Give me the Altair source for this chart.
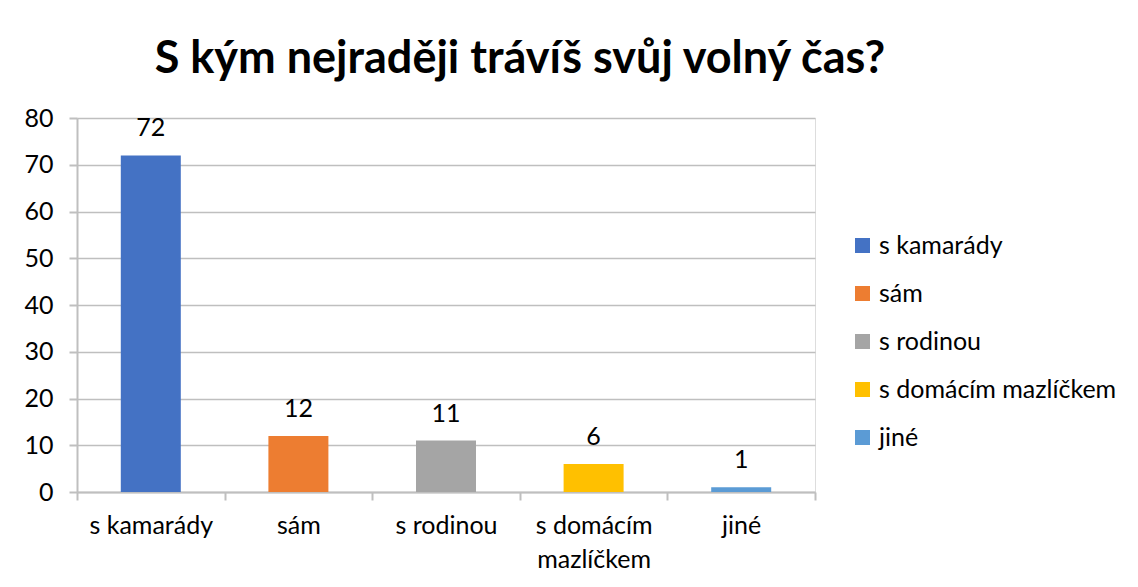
import altair as alt
import pandas as pd

categories = ["s kamarády", "sám", "s rodinou", "s domácím mazlíčkem", "jiné"]
values = [72, 12, 11, 6, 1]
colors = ["#4472C4", "#ED7D31", "#A5A5A5", "#FFC000", "#5B9BD5"]

df = pd.DataFrame({"kategorie": categories, "pocet": values})

FONT = "Lato"
FS = 25

x = alt.X(
    "kategorie:N",
    sort=categories,
    title=None,
    scale=alt.Scale(paddingInner=0, paddingOuter=0),
    axis=alt.Axis(
        labelAngle=0,
        labelFontSize=FS,
        labelColor="#000000",
        labelFont=FONT,
        labelPadding=13,
        labelLineHeight=34,
        labelExpr="datum.label == 's domácím mazlíčkem' ? ['s domácím', 'mazlíčkem'] : datum.label",
        tickBand="extent",
        tickSize=8,
        tickColor="#BFBFBF",
        tickWidth=2,
        domainColor="#BFBFBF",
        domainWidth=2,
        grid=False,
    ),
)
y = alt.Y(
    "pocet:Q",
    title=None,
    scale=alt.Scale(domain=[0, 80]),
    axis=alt.Axis(
        values=[0, 10, 20, 30, 40, 50, 60, 70, 80],
        labelFontSize=FS,
        labelColor="#000000",
        labelFont=FONT,
        labelPadding=16,
        tickSize=8,
        tickColor="#BFBFBF",
        tickWidth=2,
        domainColor="#BFBFBF",
        domainWidth=2,
        gridColor="#BFBFBF",
        gridWidth=1.5,
    ),
)

color = alt.Color(
    "kategorie:N",
    sort=categories,
    scale=alt.Scale(domain=categories, range=colors),
    legend=alt.Legend(
        title=None,
        orient="none",
        legendX=773,
        legendY=115,
        symbolType="square",
        symbolSize=225,
        symbolStrokeWidth=0,
        labelFontSize=FS,
        labelFont=FONT,
        labelColor="#000000",
        labelLimit=400,
        rowPadding=22,
        labelOffset=4,
    ),
)

bars = alt.Chart(df).mark_bar(size=60).encode(x=x, y=y, color=color)
labels = alt.Chart(df).mark_text(dy=-27, fontSize=FS, font=FONT, color="#000000").encode(
    x=alt.X("kategorie:N", sort=categories),
    y="pocet:Q",
    text="pocet:Q",
)

chart = (
    alt.layer(bars, labels)
    .properties(
        width=738,
        height=374,
        autosize=alt.AutoSizeParams(type="none"),
        padding={"left": 69, "top": 110, "right": 315, "bottom": 87},
        title=alt.TitleParams(
            "S kým nejraději trávíš svůj volný čas?",
            fontSize=45,
            font=FONT,
            fontWeight="bold",
            color="#000000",
            anchor="middle",
            dx=74,
            offset=24,
        ),
    )
    .configure_view(stroke=None)
    .configure(background="#FFFFFF")
)

chart.save("out.html", embed_options={"renderer": "svg", "actions": False})
